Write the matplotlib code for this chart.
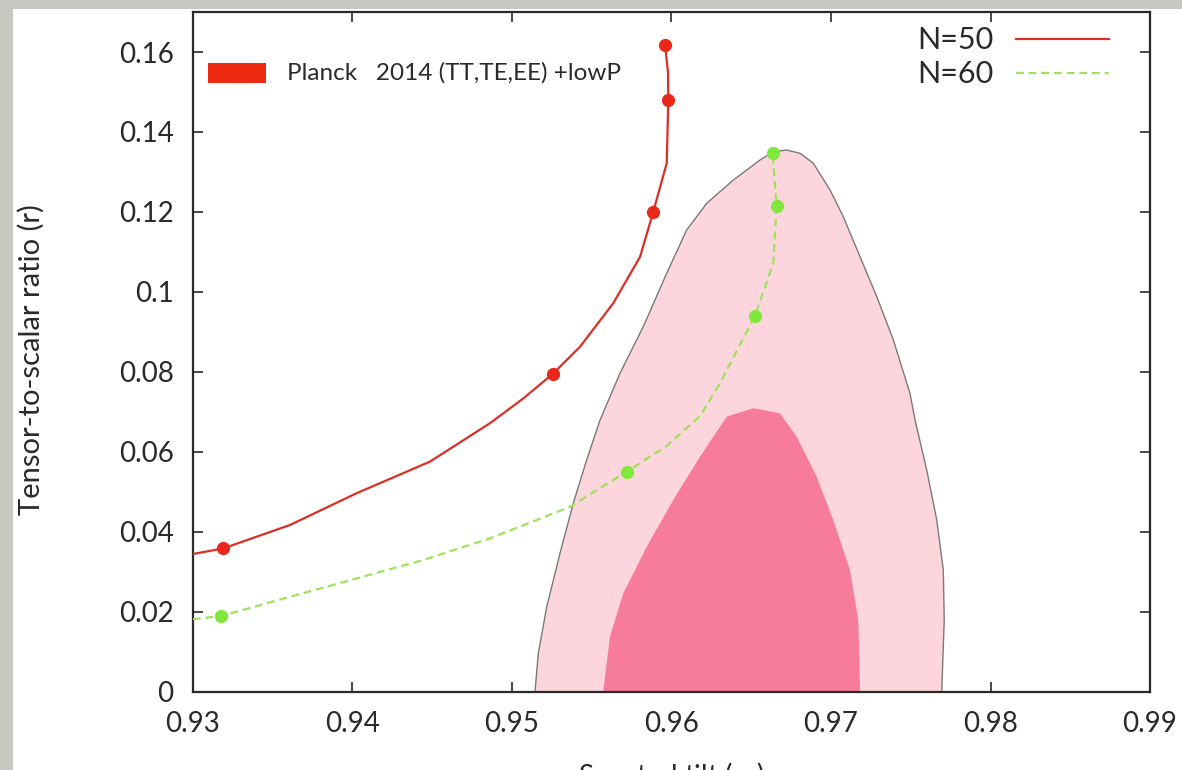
import matplotlib
matplotlib.use("Agg")
import matplotlib.pyplot as plt
from matplotlib.patches import Rectangle, Polygon

plt.rcParams['font.family'] = ['Lato', 'DejaVu Sans']

# ---- data ----
n50_x = [0.9300, 0.9319, 0.93608, 0.94026, 0.94486, 0.94862, 0.95071, 0.95255,
         0.95426, 0.95635, 0.95803, 0.95886, 0.9597, 0.9598, 0.95978, 0.95959]
n50_r = [0.0345, 0.0359, 0.04175, 0.0497, 0.0576, 0.0672, 0.0734, 0.0795,
         0.0863, 0.0972, 0.1088, 0.1201, 0.1322, 0.1480, 0.1550, 0.1618]
n50_mark_x = [0.9319, 0.95255, 0.95886, 0.9598, 0.95959]
n50_mark_r = [0.0359, 0.0795, 0.1201, 0.1480, 0.1618]

n60_x = [0.9300, 0.93176, 0.93608, 0.94026, 0.94444, 0.94862, 0.95364, 0.95719,
         0.9597, 0.96179, 0.96304, 0.96524, 0.96638, 0.96659, 0.96634]
n60_r = [0.0182, 0.0190, 0.0238, 0.0284, 0.0330, 0.0384, 0.0463, 0.0551,
         0.0615, 0.0690, 0.0772, 0.0941, 0.1072, 0.1216, 0.1347]
n60_mark_x = [0.93176, 0.95719, 0.96524, 0.96659, 0.96634]
n60_mark_r = [0.0190, 0.0551, 0.0941, 0.1216, 0.1347]

outer_x = [0.95144, 0.95165, 0.95218, 0.95301, 0.95384, 0.95468, 0.95552, 0.95677,
           0.95823, 0.95970, 0.96095, 0.96221, 0.96388, 0.96555, 0.96638, 0.96722,
           0.96806, 0.96889, 0.96994, 0.97077, 0.97182, 0.97287, 0.97391, 0.97495,
           0.97527, 0.97600, 0.97663, 0.97704, 0.97710, 0.97694]
outer_r = [0.0, 0.00968, 0.02133, 0.03468, 0.04718, 0.0580, 0.0680, 0.07968,
           0.09133, 0.10468, 0.1155, 0.12218, 0.1280, 0.1330, 0.13508, 0.1355,
           0.13468, 0.13218, 0.1255, 0.11883, 0.10883, 0.09883, 0.0880, 0.07468,
           0.0680, 0.0555, 0.0430, 0.0305, 0.0180, 0.0]

inner_x = [0.95572, 0.95614, 0.95698, 0.95845, 0.96011, 0.96179, 0.96346, 0.96513,
           0.96680, 0.96785, 0.96910, 0.97014, 0.97119, 0.97171, 0.97182]
inner_r = [0.0, 0.01383, 0.02468, 0.03633, 0.0480, 0.05883, 0.06883, 0.07093,
           0.06968, 0.06383, 0.05383, 0.0430, 0.0305, 0.0180, 0.0]

xticks = [0.93, 0.94, 0.95, 0.96, 0.97, 0.98, 0.99]
xtick_labels = ['0.93', '0.94', '0.95', '0.96', '0.97', '0.98', '0.99']
yticks = [0, 0.02, 0.04, 0.06, 0.08, 0.10, 0.12, 0.14, 0.16]
ytick_labels = ['0', '0.02', '0.04', '0.06', '0.08', '0.1', '0.12', '0.14', '0.16']

# ---- figure ----
W, H = 1182, 770
fig = plt.figure(figsize=(W / 100, H / 100), dpi=100)
fig.patch.set_facecolor('#c9c7c1')
fig.patches.append(Rectangle((13 / W, 0), 1, 1 - 9 / H, transform=fig.transFigure,
                             facecolor='white', edgecolor='none', zorder=-5))

ax = fig.add_axes([193 / W, 1 - 692 / H, (1150 - 193) / W, (692 - 12) / H])
ax.set_zorder(1)
ax.set_facecolor('white')
ax.set_xlim(0.93, 0.99)
ax.set_ylim(0, 0.17)

ax.add_patch(Polygon(list(zip(outer_x, outer_r)), closed=True, facecolor='#fdd5dc',
                     edgecolor='#7a7a7a', linewidth=1.0, joinstyle='round', zorder=1))
ax.add_patch(Polygon(list(zip(inner_x, inner_r)), closed=True, facecolor='#f67c99',
                     edgecolor='none', zorder=2))

red_line = '#dd2e26'
red_mark = '#e8281a'
green_line = '#9ee25c'
green_mark = '#80e83c'

ax.plot(n50_x, n50_r, color=red_line, lw=1.6, solid_joinstyle='round', zorder=3)
ax.plot(n50_mark_x, n50_mark_r, 'o', color=red_mark, ms=8.5, zorder=4)
ax.plot(n60_x, n60_r, color=green_line, lw=1.6, ls=(0, (3.5, 2.2)), zorder=3)
ax.plot(n60_mark_x, n60_mark_r, 'o', color=green_mark, ms=8.5, zorder=4)

ax.set_xticks(xticks)
ax.set_xticklabels(xtick_labels)
ax.set_yticks(yticks)
ax.set_yticklabels(ytick_labels)
ax.tick_params(direction='in', length=7, width=1.2, top=True, right=True,
               labelsize=20, colors='#2a2a2a', pad=14)
for s in ax.spines.values():
    s.set_linewidth(1.6)
    s.set_color('#2a2a2a')

# ---- legends (gnuplot style) ----
tr = fig.transFigure
fig.patches.append(Rectangle((208 / W, 1 - 83 / H), 58 / W, 20 / H, transform=tr,
                             facecolor='#ee2a12', edgecolor='none', zorder=5))
fig.text(287 / W, 1 - 73 / H, 'Planck   2014 (TT,TE,EE) +lowP', fontsize=17.5,
         color='#2a2a2a', va='center', ha='left', zorder=5)
fig.text(993 / W, 1 - 40 / H, 'N=50', fontsize=22, color='#2a2a2a', va='center', ha='right', zorder=5)
fig.text(993 / W, 1 - 74 / H, 'N=60', fontsize=22, color='#2a2a2a', va='center', ha='right', zorder=5)
fig.add_artist(plt.Line2D([1016 / W, 1109 / W], [1 - 39 / H, 1 - 39 / H], transform=tr,
                          color=red_line, lw=1.6, zorder=5))
fig.add_artist(plt.Line2D([1016 / W, 1109 / W], [1 - 73 / H, 1 - 73 / H], transform=tr,
                          color=green_line, lw=1.6, ls=(0, (3.5, 2.2)), zorder=5))

# ---- axis labels ----
fig.text(31 / W, 1 - 360 / H, 'Tensor-to-scalar ratio (r)', fontsize=21, rotation=90,
         color='#2a2a2a', va='center', ha='center')
fig.text(671 / W, 1 - 760 / H, r'Spectral tilt (n$_\mathregular{s}$)', fontsize=20,
         color='#2a2a2a', va='top', ha='center')

fig.savefig('out.png', dpi=100, facecolor=fig.get_facecolor())
